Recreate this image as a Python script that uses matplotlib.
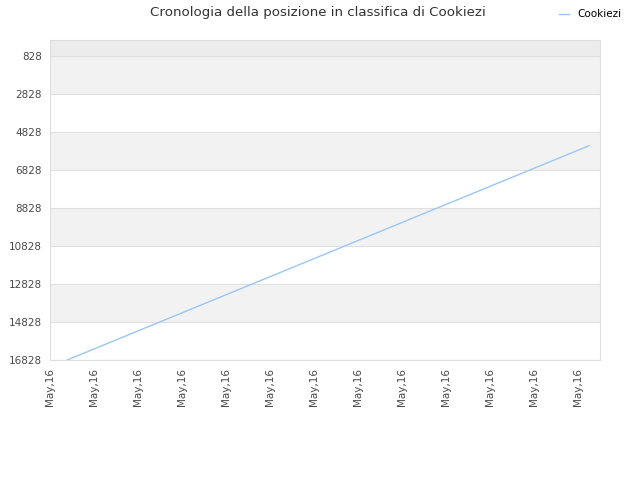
import matplotlib
matplotlib.use("Agg")
import matplotlib.pyplot as plt

# data
player = "Cookiezi"
x_pos = [0.39, 12.25]
ranks = [16828, 5550]
y_ticks = [828, 2828, 4828, 6828, 8828, 10828, 12828, 14828, 16828]
x_labels = ["May,16"] * 13

fig = plt.figure(figsize=(6.4, 4.8), dpi=100)
ax = fig.add_axes([50/640, 1-360/480, 550/640, 320/480])

# alternating bands
ax.axhspan(-14, 828, color="#ececec", zorder=0, lw=0)
for i in range(len(y_ticks)-1):
    if i % 2 == 0:
        ax.axhspan(y_ticks[i], y_ticks[i+1], color="#f2f2f2", zorder=0, lw=0)
for t in y_ticks:
    ax.axhline(t, color="#e0e0e0", lw=0.8, zorder=1)

ax.plot(x_pos, ranks, color="#99c7f5", lw=1, zorder=3, label=player)

ax.set_ylim(16828, -14)
ax.set_xlim(0, 12.5)
ax.set_yticks(y_ticks)
ax.set_yticklabels([str(t) for t in y_ticks])
ax.set_xticks(range(len(x_labels)))
ax.set_xticklabels(x_labels, rotation=90)
ax.tick_params(axis="both", length=0, labelsize=7.5, colors="#4a4a4a", pad=6)
for s in ax.spines.values():
    s.set_color("#dddddd")

fig.suptitle("Cronologia della posizione in classifica di Cookiezi", x=0.497, y=0.988,
             fontsize=9.6, color="#333333")
fig.legend(loc="upper right", bbox_to_anchor=(0.985, 1.0), frameon=False, fontsize=7.5,
           handlelength=0.9, handletextpad=0.8)

fig.savefig("out.png", dpi=100)
